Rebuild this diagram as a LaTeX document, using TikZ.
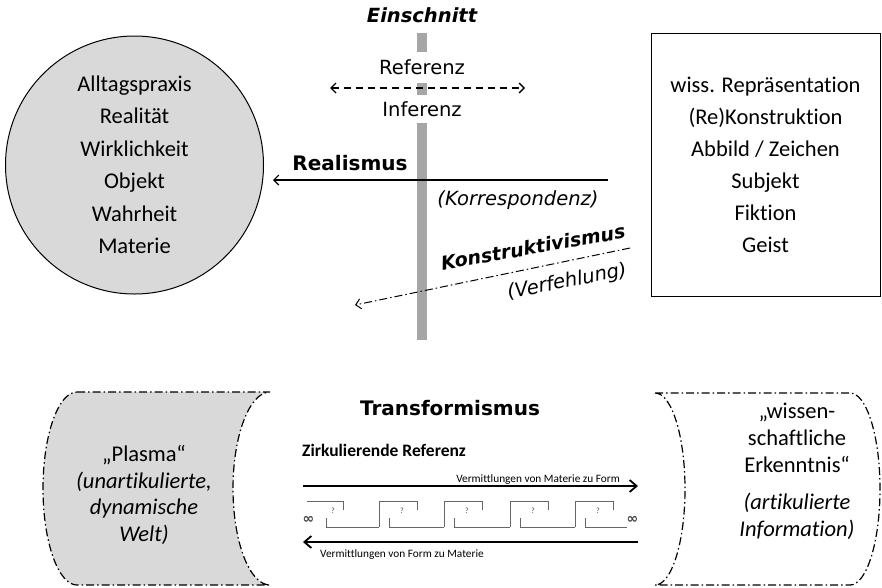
\documentclass[tikz,border=0pt]{standalone}
\usepackage{fontspec}
\setmainfont{Carlito}[Ligatures=NoCommon]
\newfontfamily\vfont{DejaVu Sans}
\usetikzlibrary{arrows.meta}

\begin{document}
\begin{tikzpicture}[x=1pt, y=-1pt,
  lbl/.style={font=\vfont\fontsize{19.5}{22}\selectfont, inner sep=1pt},
  boldlbl/.style={font=\vfont\bfseries\fontsize{20}{24}\selectfont, inner sep=1pt},
  itlbl/.style={font=\vfont\itshape\fontsize{19.5}{22}\selectfont, inner sep=1pt},
  dashdot/.style={dash pattern=on 8pt off 3pt on 1.5pt off 3pt, line width=1.2pt},
  barb/.style={-{Straight Barb[length=5pt,width=10pt]}},
  small/.style={font=\fontsize{11.3}{13}\selectfont, inner sep=0pt},
  hook/.style={black!60, line width=0.9pt},
  qmark/.style={font=\fontsize{8}{9}\selectfont, black!70, inner sep=0pt},
  infsym/.style={font=\vfont\bfseries\fontsize{14}{15}\selectfont, black!75, inner sep=0pt}]
  \useasboundingbox (0,0) rectangle (882,587);

  % Einschnitt
  \coordinate (cuttop) at (422,33);
  \coordinate (cutbot) at (422,340);
  \draw[line width=10pt, black!35] (cuttop) -- (cutbot);
  \node[boldlbl, font=\vfont\bfseries\itshape\fontsize{19.5}{22}\selectfont] (einschnitt) at (422,15) {Einschnitt};

  \node[draw, circle, fill=black!15, line width=1pt, minimum size=258pt, align=center,
        font=\fontsize{22.5}{32.5}\selectfont] (welt) at (134.5,165)
        {Alltagspraxis\\Realität\\Wirklichkeit\\Objekt\\Wahrheit\\Materie};
  \node[draw, rectangle, line width=1pt, minimum width=229pt, minimum height=263pt, align=center,
        font=\fontsize{22.5}{32}\selectfont] (repr) at (765.5,164.5)
        {wiss. Repräsentation\\(Re)Konstruktion\\Abbild / Zeichen\\Subjekt\\Fiktion\\Geist};

  \node[lbl, fill=white, minimum height=31pt] (referenz) at (422,67.5) {Referenz};
  \node[lbl, fill=white, minimum height=28pt] (inferenz) at (422,109) {Inferenz};
  \coordinate (refl) at (330,88);
  \coordinate (refr) at (525,88);
  \draw[dashed, dash pattern=on 7pt off 5pt, line width=1.4pt,
        {Straight Barb[length=5pt,width=10pt]}-{Straight Barb[length=5pt,width=10pt]}] (refl) -- (refr);

  \node[boldlbl] (realismus) at (350,163) {Realismus};
  \coordinate (reals) at (608,180);
  \coordinate (reale) at (273,180);
  \draw[barb, line width=1.1pt] (reals) -- (reale);
  \node[itlbl] (korr) at (518,200) {(Korrespondenz)};

  \node[boldlbl, font=\vfont\bfseries\itshape\fontsize{19}{22}\selectfont, rotate=10, inner sep=0pt] (konstr) at (533,247) {Konstruktivismus};
  \node[itlbl, rotate=11, inner sep=0pt] (verf) at (567,282) {(Verfehlung)};
  \coordinate (konsts) at (630,248);
  \coordinate (konste) at (355,305);
  \draw[barb, dashdot, line width=1pt] (konsts) -- (konste);

  % Transformismus
  \path[draw, dashdot, fill=black!15] (77,392) -- (270,392)
    arc[start angle=270, end angle=90, x radius=37, y radius=96.5] -- (77,585)
    arc[start angle=90, end angle=270, x radius=34, y radius=96.5] -- cycle;
  \path[draw, dashdot] (655,393) -- (850,393)
    arc[start angle=270, end angle=450, x radius=30, y radius=96] -- (655,585)
    arc[start angle=90, end angle=-90, x radius=30, y radius=96] -- cycle;

  \node[align=center, font=\fontsize{22.5}{26.5}\selectfont] (plasma) at (144,495)
    {„Plasma“\\\textit{(unartikulierte,}\\\textit{dynamische}\\\textit{Welt)}};
  \node[align=center, font=\fontsize{22.5}{27}\selectfont] (erkenntnis) at (797,471)
    {„wissen-\\schaftliche\\Erkenntnis“\\[10pt]\textit{(artikulierte}\\\textit{Information)}};

  \node[boldlbl] (transf) at (450,408) {Transformismus};
  \node[font=\bfseries\fontsize{17.5}{20}\selectfont, anchor=west, inner sep=0pt] (zirk) at (302,450) {Zirkulierende Referenz};

  \coordinate (mzfl) at (303,486);
  \coordinate (mzfr) at (638,486);
  \draw[-{Straight Barb[length=7pt,width=12pt]}, line width=1.8pt] (mzfl) -- (mzfr);
  \node[small, anchor=base east] (mzf) at (620,482) {Vermittlungen von Materie zu Form};
  \coordinate (fzml) at (303,542);
  \coordinate (fzmr) at (638,542);
  \draw[-{Straight Barb[length=7pt,width=12pt]}, line width=1.8pt] (fzmr) -- (fzml);
  \node[small, anchor=base west] (fzm) at (320,557) {Vermittlungen von Form zu Materie};

  % Kette
  \draw[hook] (307,501) -- (343,501) -- (343,510);
  \draw[hook] (326,518) -- (326,527) -- (379,527);
  \node[qmark] (q0) at (333,511) {?};
  \foreach \u/\v [count=\i] in {379/444, 444/510, 510/575, 575/627} {
    \draw[hook] (\u,527) -- (\u,501) -- (\u+38,501) -- (\u+38,510);
    \draw[hook] (\u+10,518) -- (\u+10,527) -- (\v,527);
    \node[qmark] (q\i) at (\u+23,511) {?};
  }
  \node[infsym] (infl) at (308.5,520) {∞};
  \node[infsym] (infr) at (632.5,520) {∞};
\end{tikzpicture}
\end{document}
